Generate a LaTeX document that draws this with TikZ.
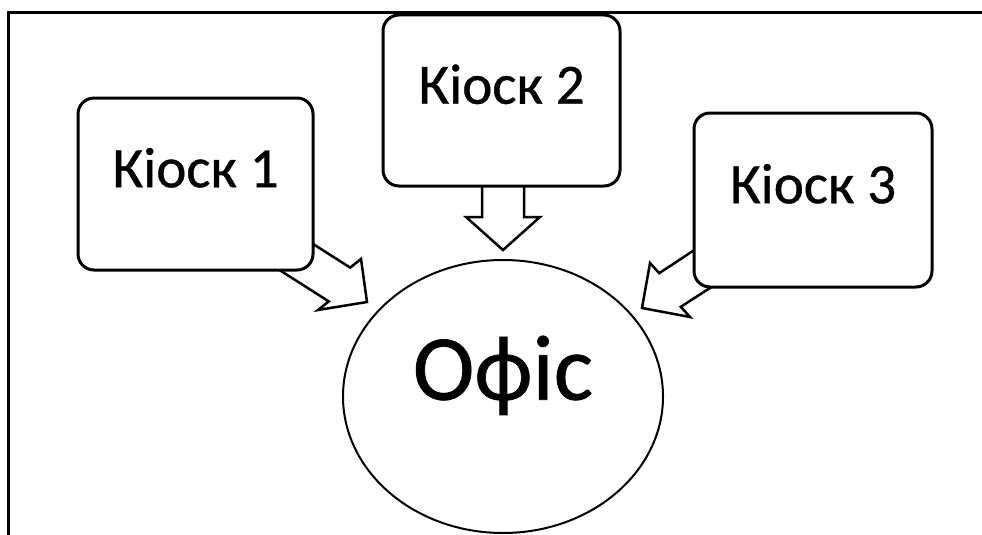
\documentclass[tikz,border=0pt]{standalone}
\usepackage{fontspec}
\setmainfont{Carlito}[FakeBold=0.7]
\usetikzlibrary{shapes.geometric}
\begin{document}
\begin{tikzpicture}[x=1pt,y=-1pt,
  framerule/.style={line width=3pt, line cap=rect},
  blockarrow/.style={draw, line width=2.5pt, fill=white, line join=miter},
  kiosk/.style={draw, line width=3pt, rounded corners=16pt, fill=white,
    inner sep=0pt, font=\fontsize{57}{60}\selectfont,
    text height=0.644em, text depth=0pt},
  office/.style={draw, ellipse, line width=2pt, fill=white, inner sep=0pt,
    minimum width=320pt, minimum height=273pt,
    font=\fontsize{93}{96}\selectfont, text height=0.644em, text depth=0pt}]
\useasboundingbox (0,0) rectangle (982,535);
% frame
\draw[framerule] (8,535) -- (8,13) -- (982,13);
% block arrows (drawn first so the boxes cover their tails)
\draw[blockarrow] (291.1,230) -- (350.2,267.6) -- (361,259) -- (367,302)
  -- (318,310) -- (328.8,301.4) -- (269.7,263.8) -- cycle;
\draw[blockarrow] (482,178) -- (482,217) -- (466,217) -- (503,250)
  -- (540,217) -- (524,217) -- (524,178) -- cycle;
\draw[blockarrow] (705,243) -- (659.2,273.2) -- (650,263) -- (642,308)
  -- (690,317) -- (680.8,306.8) -- (727,277) -- cycle;
% boxes
\node[kiosk, minimum width=235pt, minimum height=172pt] (k1) at (195.5,184) {Кіоск 1};
\node[kiosk, minimum width=237pt, minimum height=171pt] (k2) at (501.5,100.5) {Кіоск 2};
\node[kiosk, minimum width=238pt, minimum height=174pt] (k3) at (813,200) {Кіоск 3};
\node[office] (of) at (503,396.5) {Офіс};
\end{tikzpicture}
\end{document}
